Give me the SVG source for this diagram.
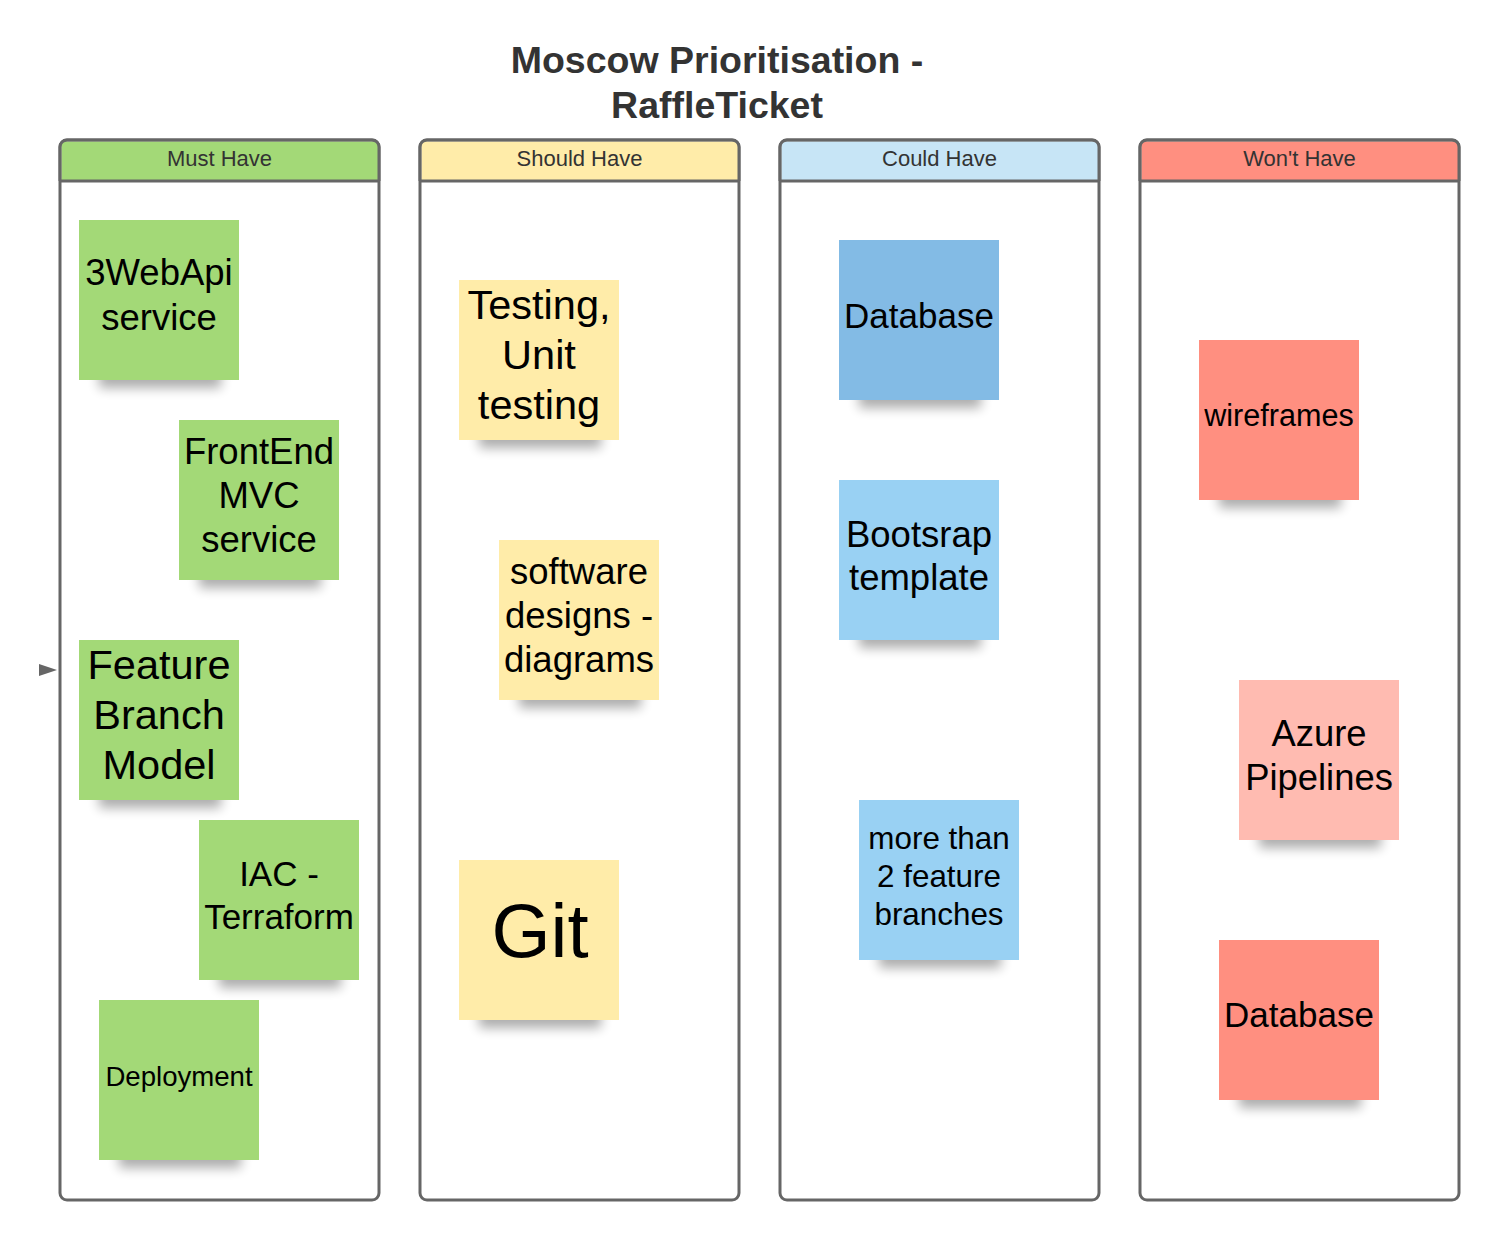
<svg xmlns="http://www.w3.org/2000/svg" width="1499" height="1240" viewBox="0 0 1499 1240">
<style>
text{font-family:"Liberation Sans",Arial,sans-serif;text-anchor:middle}
.title{font-size:37.5px;font-weight:bold;fill:#333}
.hdr{font-size:22px;fill:#333}
.col{fill:#fff;stroke:#666;stroke-width:3}
.hline{stroke:#666;stroke-width:3}
.nt{fill:#000}
.sh{fill:#000;opacity:.32;filter:url(#blur)}
.g{fill:#a3d977}.y{fill:#ffeca9}.b1{fill:#83bbe5}.b2{fill:#99d1f3}.r1{fill:#ff8f80}.r2{fill:#ffbbb1}
</style>
<defs>
<filter id="blur" x="-50%" y="-100%" width="200%" height="300%"><feGaussianBlur stdDeviation="6"/></filter>
</defs>
<rect width="1499" height="1240" fill="#fff"/>
<text class="title" x="717" y="73">Moscow Prioritisation -</text>
<text class="title" x="717" y="118">RaffleTicket</text>

<g id="col-must">
<rect class="col" x="60" y="140" width="319" height="1060" rx="7"/>
<path d="M61.5 141.5h312a5 5 0 0 1 5 5v35h-317v-35z" fill="#a3d977"/>
<path d="M60 181V147a7 7 0 0 1 7-7h305a7 7 0 0 1 7 7v34" fill="none" stroke="#666" stroke-width="3"/>
<line class="hline" x1="60" y1="181" x2="379" y2="181"/>
<text class="hdr" x="219.5" y="166">Must Have</text>
</g>
<g id="col-should">
<rect class="col" x="420" y="140" width="319" height="1060" rx="7"/>
<path d="M421.5 141.5h312a5 5 0 0 1 5 5v35h-317v-35z" fill="#ffeca9"/>
<path d="M420 181V147a7 7 0 0 1 7-7h305a7 7 0 0 1 7 7v34" fill="none" stroke="#666" stroke-width="3"/>
<line class="hline" x1="420" y1="181" x2="739" y2="181"/>
<text class="hdr" x="579.5" y="166">Should Have</text>
</g>
<g id="col-could">
<rect class="col" x="780" y="140" width="319" height="1060" rx="7"/>
<path d="M781.5 141.5h312a5 5 0 0 1 5 5v35h-317v-35z" fill="#c7e5f6"/>
<path d="M780 181V147a7 7 0 0 1 7-7h305a7 7 0 0 1 7 7v34" fill="none" stroke="#666" stroke-width="3"/>
<line class="hline" x1="780" y1="181" x2="1099" y2="181"/>
<text class="hdr" x="939.5" y="166">Could Have</text>
</g>
<g id="col-wont">
<rect class="col" x="1140" y="140" width="319" height="1060" rx="7"/>
<path d="M1141.5 141.5h312a5 5 0 0 1 5 5v35h-317v-35z" fill="#ff8f80"/>
<path d="M1140 181V147a7 7 0 0 1 7-7h305a7 7 0 0 1 7 7v34" fill="none" stroke="#666" stroke-width="3"/>
<line class="hline" x1="1140" y1="181" x2="1459" y2="181"/>
<text class="hdr" x="1299.5" y="166">Won't Have</text>
</g>

<g id="n-webapi">
<rect class="sh" x="99" y="360" width="122" height="28"/>
<rect class="g" x="79" y="220" width="160" height="160"/>
<text class="nt" font-size="36.5" x="159" y="285">3WebApi</text>
<text class="nt" font-size="36.5" x="159" y="330">service</text>
</g>
<g id="n-frontend">
<rect class="sh" x="199" y="560" width="122" height="28"/>
<rect class="g" x="179" y="420" width="160" height="160"/>
<text class="nt" font-size="36.5" x="259" y="464">FrontEnd</text>
<text class="nt" font-size="36.5" x="259" y="508">MVC</text>
<text class="nt" font-size="36.5" x="259" y="552">service</text>
</g>
<g id="n-feature">
<rect class="sh" x="99" y="780" width="122" height="28"/>
<rect class="g" x="79" y="640" width="160" height="160"/>
<text class="nt" font-size="41.5" x="159" y="679">Feature</text>
<text class="nt" font-size="41.5" x="159" y="729">Branch</text>
<text class="nt" font-size="41.5" x="159" y="779">Model</text>
</g>
<g id="n-iac">
<rect class="sh" x="219" y="960" width="122" height="28"/>
<rect class="g" x="199" y="820" width="160" height="160"/>
<text class="nt" font-size="35" x="279" y="886">IAC -</text>
<text class="nt" font-size="35" x="279" y="929">Terraform</text>
</g>
<g id="n-deploy">
<rect class="sh" x="119" y="1140" width="122" height="28"/>
<rect class="g" x="99" y="1000" width="160" height="160"/>
<text class="nt" font-size="27.6" x="179" y="1086">Deployment</text>
</g>

<g id="n-testing">
<rect class="sh" x="479" y="420" width="122" height="28"/>
<rect class="y" x="459" y="280" width="160" height="160"/>
<text class="nt" font-size="41.5" x="539" y="319">Testing,</text>
<text class="nt" font-size="41.5" x="539" y="369">Unit</text>
<text class="nt" font-size="41.5" x="539" y="419">testing</text>
</g>
<g id="n-software">
<rect class="sh" x="519" y="680" width="122" height="28"/>
<rect class="y" x="499" y="540" width="160" height="160"/>
<text class="nt" font-size="36.5" x="579" y="584">software</text>
<text class="nt" font-size="36.5" x="579" y="628">designs -</text>
<text class="nt" font-size="36.5" x="579" y="672">diagrams</text>
</g>
<g id="n-git">
<rect class="sh" x="479" y="1000" width="122" height="28"/>
<rect class="y" x="459" y="860" width="160" height="160"/>
<text class="nt" font-size="76" x="540" y="957">Git</text>
</g>

<g id="n-database-could">
<rect class="sh" x="859" y="380" width="122" height="28"/>
<rect class="b1" x="839" y="240" width="160" height="160"/>
<text class="nt" font-size="35" x="919" y="328">Database</text>
</g>
<g id="n-bootstrap">
<rect class="sh" x="859" y="620" width="122" height="28"/>
<rect class="b2" x="839" y="480" width="160" height="160"/>
<text class="nt" font-size="36.5" x="919" y="547">Bootsrap</text>
<text class="nt" font-size="36.5" x="919" y="590">template</text>
</g>
<g id="n-branches">
<rect class="sh" x="879" y="940" width="122" height="28"/>
<rect class="b2" x="859" y="800" width="160" height="160"/>
<text class="nt" font-size="31.4" x="939" y="849">more than</text>
<text class="nt" font-size="31.4" x="939" y="887">2 feature</text>
<text class="nt" font-size="31.4" x="939" y="925">branches</text>
</g>

<g id="n-wireframes">
<rect class="sh" x="1219" y="480" width="122" height="28"/>
<rect class="r1" x="1199" y="340" width="160" height="160"/>
<text class="nt" font-size="30.6" x="1279" y="426">wireframes</text>
</g>
<g id="n-azure">
<rect class="sh" x="1259" y="820" width="122" height="28"/>
<rect class="r2" x="1239" y="680" width="160" height="160"/>
<text class="nt" font-size="36.4" x="1319" y="746">Azure</text>
<text class="nt" font-size="36.4" x="1319" y="790">Pipelines</text>
</g>
<g id="n-database-wont">
<rect class="sh" x="1239" y="1080" width="122" height="28"/>
<rect class="r1" x="1219" y="940" width="160" height="160"/>
<text class="nt" font-size="35" x="1299" y="1027">Database</text>
</g>

<g id="connectors">
<path d="M39 664L57 670L39 676z" fill="#666"/>
</g>
</svg>
